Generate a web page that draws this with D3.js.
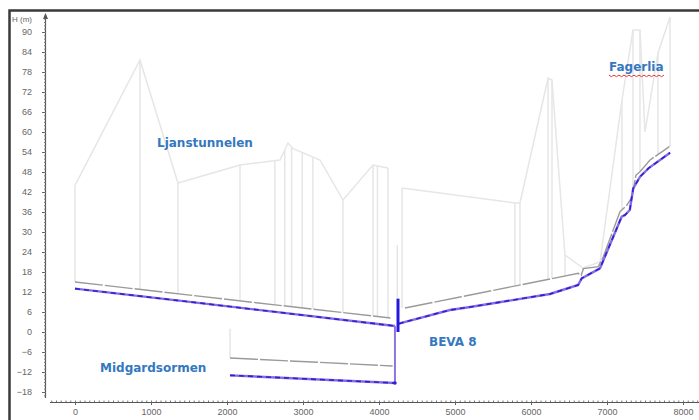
<!DOCTYPE html>
<html><head><meta charset="utf-8">
<script src="https://cdn.jsdelivr.net/npm/d3@7/dist/d3.min.js"></script>
<style>body{margin:0;background:#fff}svg{display:block}</style>
</head><body>
<script>
// ---- data (distance m, elevation m) ----
const xTicks = [0,1000,2000,3000,4000,5000,6000,7000,8000];
const yTicks = [-18,-12,-6,0,6,12,18,24,30,36,42,48,54,60,66,72,78,84,90];
const blueWest = [[0,13],[1340,9.5],[4210,1.8]];
const blueEast = [[4260,2.5],[4934,6.6],[5200,7.5],[6250,11.4],[6620,14.1],[6667,16.1],[6908,19.1],[7193,34.6],[7237,35.1],[7300,36.6],[7345,43.1],[7435,46.6],[7545,49.1],[7830,53.8]];
const grayWest = [[0,15],[4150,4.2]];
const grayEast = [[4342,7.2],[5066,10.5],[6622,17.6],[6660,17.0],[6690,19.0],[6886,19.6],[6950,22.5],[7171,36.1],[7260,38],[7330,40.5],[7380,47],[7434,48.1],[7566,51.6],[7820,55.6]];
const midBlue = [[2040,-13],[4210,-15.3]];
const midGray = [[2040,-7.8],[4180,-10.2]];
const connector = [[4210,1.8],[4210,-15.3]];
const beva = [[4250,10],[4250,0]];
const terrainWest = [[0,44],[855,81.6],[1355,44.7],[2171,50.1],[2697,51.6],[2803,56.7],[2870,55],[3224,51.6],[3526,39.6],[3921,50.1],[4118,49.2]];
const terrainEast = [[4303,43.2],[5789,38.7],[5855,38.7],[6224,76.2],[6276,75.6],[6447,23.1],[6684,19.2],[6908,21],[7197,69.6],[7342,90.6],[7434,90.6],[7500,60],[7671,83.7],[7829,94.5]];
const shaftsWest = [0,855,1355,2171,2630,2760,2850,2990,3130,3526,3921,3980,4118];
const shaftsEast = [4303,5789,5855,6224,6276,6447,6684,6908,7197,7342,7434,7671,7829];
const labels = [
  {text:"Ljanstunnelen", d:1079, h:55.5},
  {text:"Midgardsormen", d:329, h:-12},
  {text:"BEVA 8", d:4658, h:-4.1},
  {text:"Fagerlia", d:7026, h:78.4, spell:true}
];

const W=699,H=420;
const svg=d3.select("body").append("svg").attr("width",W).attr("height",H);
const x=d3.scaleLinear().domain([0,8000]).range([75,683]);
const y=d3.scaleLinear().domain([-18,90]).range([392,32]);
const line=d3.line().x(d=>x(d[0])).y(d=>y(d[1]));

// frame
svg.append("path").attr("d",`M9.5,${H} V10.5 H${W}`).attr("fill","none").attr("stroke","#3a3a3a").attr("stroke-width",2.5);

function interp(arr,d){
  for(let i=0;i<arr.length-1;i++){
    const a=arr[i],b=arr[i+1];
    if(d>=a[0]&&d<=b[0]){const t=(d-a[0])/(b[0]-a[0]||1);return a[1]+t*(b[1]-a[1]);}
  }
  return d<arr[0][0]?arr[0][1]:arr[arr.length-1][1];
}
const lg="#e6e6e6";
const gT=svg.append("g").attr("fill","none").attr("stroke",lg).attr("stroke-width",1.5);
[terrainWest,terrainEast].forEach(t=>gT.append("path").attr("d",line(t)));
shaftsWest.forEach(d=>gT.append("line").attr("x1",x(d)).attr("x2",x(d)).attr("y1",y(interp(grayWest,d))).attr("y2",y(interp(terrainWest,d))));
shaftsEast.forEach(d=>gT.append("line").attr("x1",x(d)).attr("x2",x(d)).attr("y1",y(interp(grayEast,d))).attr("y2",y(interp(terrainEast,d))));
gT.append("line").attr("x1",x(2040)).attr("x2",x(2040)).attr("y1",y(-7.8)).attr("y2",y(1));
gT.append("line").attr("x1",x(4240)).attr("x2",x(4240)).attr("y1",y(10)).attr("y2",y(26));

// gray tunnel lines
[grayWest,grayEast,midGray].forEach(g=>svg.append("path").attr("d",line(g)).attr("fill","none").attr("stroke","#9a9a9a").attr("stroke-width",1.4).attr("stroke-dasharray","28,2"));

// connector
svg.append("path").attr("d",line(connector)).attr("fill","none").attr("stroke","#8f74e0").attr("stroke-width",2);
// blue lines
[blueWest,blueEast,midBlue].forEach(b=>{
  svg.append("path").attr("d",line(b)).attr("fill","none").attr("stroke","#8a6ae0").attr("stroke-width",2.4);
  svg.append("path").attr("d",line(b)).attr("fill","none").attr("stroke","#2a22d8").attr("stroke-width",1.6).attr("stroke-dasharray","5,4");
});
svg.append("path").attr("d",line(beva)).attr("fill","none").attr("stroke","#2418e0").attr("stroke-width",3);
svg.append("circle").attr("cx",x(4210)).attr("cy",y(-15.3)).attr("r",1.8).attr("fill","#2a22d8");

// axes
const ax=svg.append("g").attr("font-family","Liberation Sans, Arial, sans-serif");
ax.append("line").attr("x1",45.5).attr("x2",45.5).attr("y1",398).attr("y2",14).attr("stroke","#555").attr("stroke-width",1.2);
ax.append("path").attr("d","M43,19 L45.5,13 L48,19 Z").attr("fill","#555");
const yMinor=d3.range(-19,95,1);
const gyMinor=ax.append("g").attr("transform","translate(45,0)").call(d3.axisRight(y).tickValues(yMinor).tickSize(2).tickFormat(""));
gyMinor.select(".domain").remove();
gyMinor.selectAll("line").attr("stroke","#777").attr("transform","translate(-1,0)");
const gy=ax.append("g").attr("transform","translate(45,0)").call(d3.axisLeft(y).tickValues(yTicks).tickSize(3).tickPadding(10));
gy.select(".domain").remove();
gy.selectAll("line").attr("stroke","#666");
gy.selectAll("text").attr("font-size",9).attr("fill","#666").attr("font-family","Liberation Sans, Arial, sans-serif");
ax.append("text").attr("x",12).attr("y",22).attr("font-size",8).attr("fill","#666").text("H (m)");

ax.append("line").attr("x1",50).attr("x2",W).attr("y1",402.5).attr("y2",402.5).attr("stroke","#555").attr("stroke-width",1.2);
const xMinor=d3.range(-312.5,8300,62.5);
const gxMinor=ax.append("g").attr("transform","translate(0,402)").call(d3.axisTop(x).tickValues(xMinor).tickSize(1.5).tickFormat(""));
gxMinor.select(".domain").remove();
gxMinor.selectAll("line").attr("stroke","#777");
const gx=ax.append("g").attr("transform","translate(0,402)").call(d3.axisBottom(x).tickValues(xTicks).tickSize(3).tickPadding(4).tickFormat(d3.format("d")));
gx.select(".domain").remove();
gx.selectAll("line").attr("stroke","#666");
gx.selectAll("text").attr("font-size",9).attr("fill","#666").attr("font-family","Liberation Sans, Arial, sans-serif");

// labels
labels.forEach(l=>{
  const t=svg.append("text").attr("x",x(l.d)).attr("y",y(l.h)).attr("font-family","DejaVu Sans, Verdana, sans-serif")
    .attr("font-weight","bold").attr("font-size",12).attr("fill","#3478bf").text(l.text);
  if(l.spell){
    const bb=t.node().getBBox();
    const y0=y(l.h)+4.5;let p=`M${bb.x},${y0}`;
    for(let xx=bb.x,i=0;xx<bb.x+bb.width;xx+=2.5,i++){p+=` L${xx+2.5},${y0+(i%2===0?1.5:0)}`;}
    svg.append("path").attr("d",p).attr("fill","none").attr("stroke","#e8383a").attr("stroke-width",1);
  }
});
</script>
</body></html>
